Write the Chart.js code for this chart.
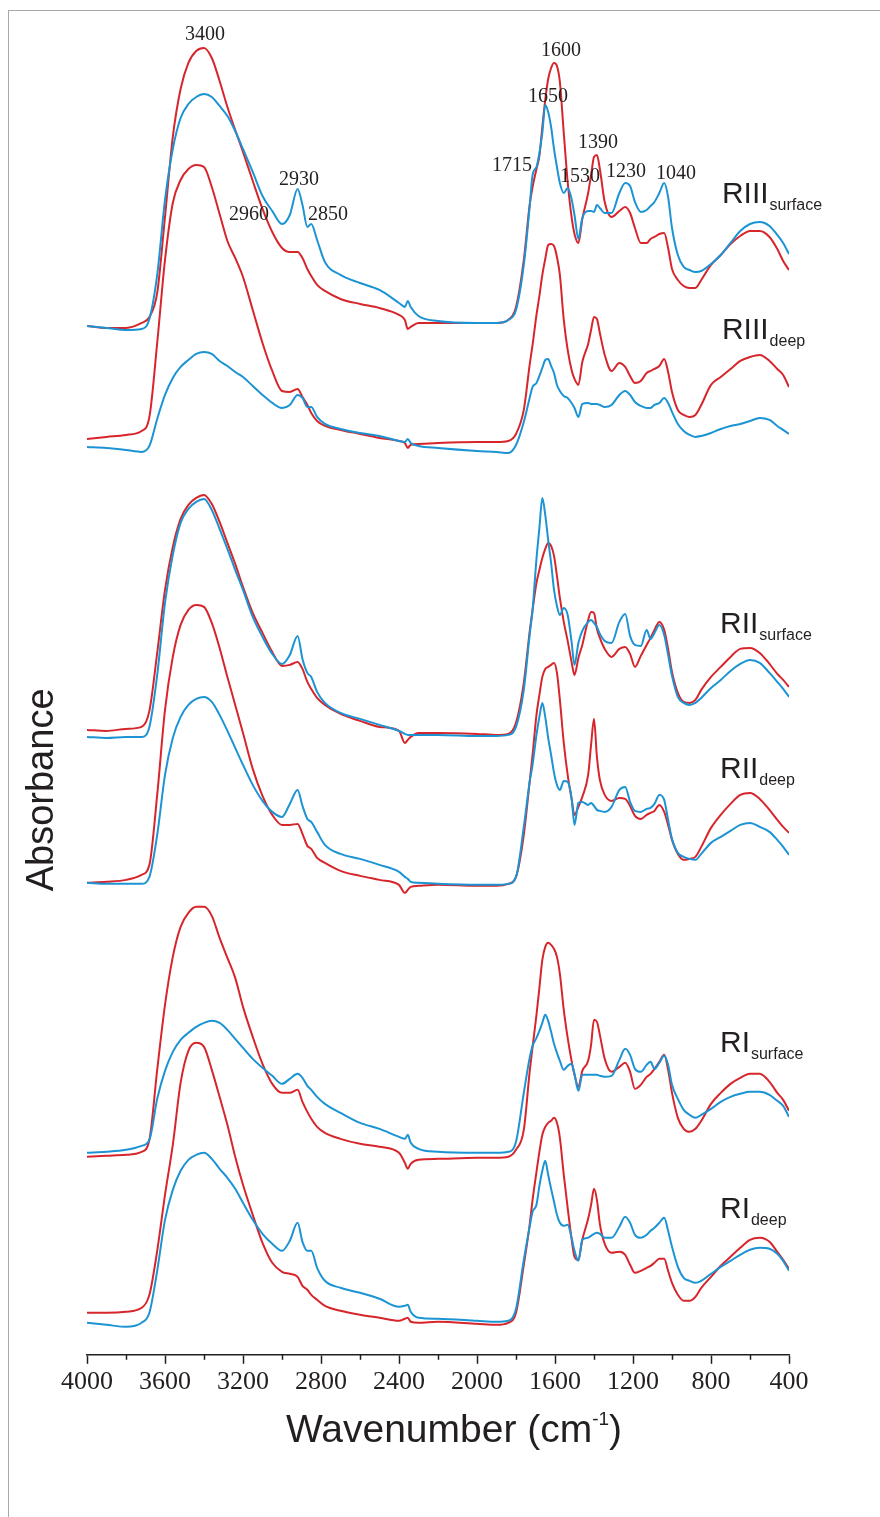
<!DOCTYPE html>
<html>
<head>
<meta charset="utf-8">
<title>FTIR spectra</title>
<script src="https://cdn.jsdelivr.net/npm/chart.js@4.4.0/dist/chart.umd.min.js"></script>
<style>
  html, body { margin: 0; padding: 0; background: #fff; overflow: hidden; }
  #marco { position: absolute; left: 8px; top: 10px; width: 871px; height: 1506px;
           border-left: 1px solid #a8a8a8; border-top: 1px solid #a8a8a8; }
  #lineChart { position: absolute; left: 0; top: 0; }
</style>
</head>
<body>
<div id="marco"></div>
<canvas id="lineChart" width="880" height="1517"></canvas>
<script>
// Eje x: número de onda (cm-1), común a todos los espectros
const wavenumbers = [
  4000, 3900, 3800, 3720, 3680, 3640, 3600, 3560, 3520, 3480,
  3440, 3400, 3360, 3320, 3280, 3240, 3200, 3150, 3100, 3050,
  3000, 2960, 2920, 2895, 2870, 2850, 2820, 2780, 2700, 2600,
  2500, 2400, 2370, 2355, 2340, 2300, 2200, 2000, 1900, 1840,
  1800, 1760, 1730, 1715, 1695, 1680, 1665, 1650, 1635, 1620,
  1605, 1590, 1575, 1555, 1535, 1515, 1500, 1480, 1460, 1430,
  1415, 1400, 1385, 1370, 1345, 1310, 1270, 1240, 1215, 1190,
  1160, 1130, 1110, 1090, 1065, 1040, 1020, 1000, 970, 940,
  910, 880, 850, 800, 750, 700, 650, 600, 550, 500,
  460, 430, 400
];

// Absorbancia (unidades arbitrarias, con desplazamiento vertical por muestra)
const riiiSurfaceRed = [
  1029, 1027, 1027, 1032, 1038, 1062, 1138, 1218, 1266, 1292,
  1304, 1307, 1297, 1274, 1248, 1225, 1203, 1174, 1146, 1123,
  1107, 1103, 1103, 1097, 1086, 1079, 1070, 1064, 1056, 1051,
  1047, 1040, 1035, 1026, 1028, 1032, 1032, 1032, 1032, 1035,
  1048, 1095, 1150, 1168, 1186, 1199, 1228, 1255, 1276, 1287,
  1292, 1289, 1273, 1222, 1173, 1138, 1121, 1112, 1136, 1162,
  1180, 1198, 1200, 1186, 1153, 1138, 1144, 1148, 1142, 1127,
  1112, 1112, 1116, 1118, 1121, 1122, 1107, 1086, 1075, 1069,
  1067, 1067, 1075, 1090, 1100, 1111, 1119, 1124, 1124, 1118,
  1106, 1094, 1085
];
const riiiSurfaceBlue = [
  1029, 1027, 1025, 1026, 1036, 1080, 1155, 1206, 1237, 1251,
  1258, 1261, 1258, 1249, 1239, 1224, 1206, 1183, 1159, 1144,
  1131, 1140, 1166, 1150, 1128, 1131, 1115, 1093, 1080, 1072,
  1065, 1052, 1048, 1054, 1048, 1039, 1034, 1032, 1032, 1035,
  1045, 1090, 1148, 1180, 1188, 1202, 1222, 1250, 1243, 1228,
  1206, 1188, 1172, 1162, 1167, 1156, 1140, 1116, 1137, 1144,
  1144, 1143, 1150, 1147, 1142, 1142, 1162, 1172, 1169, 1153,
  1143, 1145, 1149, 1153, 1162, 1172, 1158, 1127, 1100, 1088,
  1085, 1083, 1084, 1091, 1100, 1112, 1124, 1131, 1133, 1129,
  1120, 1112, 1101
];
const riiiDeepRed = [
  916, 918, 920, 924, 938, 1012, 1095, 1152, 1175, 1186,
  1190, 1188, 1168, 1141, 1114, 1097, 1078, 1045, 1012, 984,
  964, 963, 966, 958, 950, 942, 934, 929, 925, 921,
  917, 914, 912, 907, 910, 911, 912, 913, 913, 914,
  921, 945, 990, 1010, 1040, 1059, 1080, 1096, 1110, 1111,
  1109, 1098, 1080, 1035, 1005, 985, 976, 970, 993, 1011,
  1025, 1038, 1036, 1022, 1000, 984, 992, 988, 979, 972,
  974, 982, 984, 986, 989, 996, 983, 963, 945, 940,
  938, 940, 950, 970, 978, 986, 994, 998, 1000, 994,
  986, 980, 968
];
const riiiDeepBlue = [
  908, 907, 905, 903, 909, 936, 960, 977, 988, 995,
  1001, 1003, 1001, 994, 989, 983, 978, 969, 960, 952,
  947, 950, 960, 957, 948, 948, 938, 931, 926, 922,
  919, 914, 913, 916, 912, 909, 907, 904, 903, 902,
  910, 933, 957, 968, 972, 979, 987, 995, 996, 989,
  982, 970, 964, 959, 957, 952, 947, 938, 951, 952,
  951, 951, 951, 950, 948, 950, 960, 964, 960, 953,
  949, 947, 947, 950, 952, 957, 952, 943, 931, 924,
  920, 918, 919, 922, 926, 929, 931, 934, 937, 935,
  929, 925, 921
];
const riiSurfaceRed = [
  625, 624, 626, 628, 644, 702, 765, 808, 836, 850,
  857, 860, 851, 833, 812, 791, 768, 742, 722, 703,
  689, 690, 693, 686, 673, 666, 657, 650, 641, 634,
  628, 624, 612, 615, 618, 622, 622, 621, 620, 621,
  632, 672, 723, 745, 772, 785, 797, 806, 812, 809,
  799, 779, 757, 733, 714, 693, 680, 697, 710, 735,
  743, 742, 726, 717, 706, 698, 706, 708, 701, 688,
  699, 710, 717, 725, 733, 725, 706, 683, 662, 653,
  652, 655, 665, 678, 688, 698, 706, 707, 702, 691,
  681, 675, 668
];
const riiSurfaceBlue = [
  618, 617, 618, 618, 628, 680, 752, 800, 832, 846,
  853, 856, 845, 826, 806, 785, 765, 738, 718, 701,
  691, 700, 719, 696, 682, 678, 663, 652, 642, 636,
  630, 624, 621, 620, 620, 620, 620, 619, 619, 620,
  628, 665, 720, 745, 796, 827, 857, 840, 815, 792,
  765, 749, 740, 747, 740, 713, 690, 712, 724, 733,
  735, 732, 728, 721, 714, 712, 733, 741, 719, 710,
  709, 725, 716, 722, 730, 720, 700, 679, 658, 652,
  650, 652, 657, 667, 675, 684, 691, 695, 692, 682,
  673, 666, 658
];
const riiDeepRed = [
  472, 473, 475, 480, 490, 560, 645, 698, 730, 745,
  750, 748, 732, 707, 678, 650, 622, 586, 559, 540,
  530, 530, 531, 521, 509, 506, 497, 492, 484, 479,
  475, 470, 462, 465, 468, 469, 470, 469, 469, 471,
  478, 520, 573, 600, 640, 660, 678, 686, 688, 690,
  692, 682, 655, 612, 580, 556, 540, 548, 558, 580,
  610, 636, 598, 575, 560, 554, 557, 556, 549, 539,
  536, 540, 542, 544, 550, 543, 530, 515, 501, 495,
  496, 498, 508, 527, 540, 551, 560, 562, 556, 545,
  535, 528, 522
];
const riiDeepBlue = [
  472, 471, 471, 471, 478, 520, 580, 617, 638, 650,
  656, 658, 653, 640, 624, 607, 590, 570, 554, 543,
  538, 551, 565, 549, 536, 533, 523, 510, 501, 496,
  490, 483, 478, 476, 473, 472, 471, 470, 470, 471,
  478, 528, 573, 590, 620, 638, 652, 638, 617, 600,
  582, 570, 565, 574, 573, 557, 530, 552, 553, 550,
  552, 549, 545, 544, 543, 548, 565, 568, 553, 544,
  543, 546, 547, 551, 560, 555, 535, 516, 502, 498,
  496, 495, 501, 512, 518, 524, 530, 532, 528, 523,
  515, 508, 500
];
const riSurfaceRed = [
  198, 199, 200, 203, 215, 285, 350, 398, 428, 442,
  448, 448, 439, 417, 397, 377, 348, 318, 291, 271,
  262, 262, 265, 253, 243, 236, 228, 222, 216, 211,
  208, 202, 192, 186, 191, 195, 196, 197, 197, 198,
  205, 225, 283, 308, 340, 367, 395, 408, 412, 410,
  406, 398, 381, 345, 317, 294, 280, 268, 284, 294,
  310, 335, 333, 320, 296, 283, 288, 292, 283, 266,
  270, 278, 281, 286, 293, 300, 285, 262, 237, 226,
  223, 226, 234, 251, 262, 271, 277, 281, 281, 273,
  262, 255, 244
];
const riSurfaceBlue = [
  202, 203, 205, 209, 215, 256, 284, 303, 315, 322,
  328, 332, 334, 332, 325, 316, 307, 296, 287, 279,
  271, 276, 281, 277, 269, 265, 258, 251, 242, 232,
  226, 218, 216, 220, 212, 206, 203, 202, 202, 203,
  213, 262, 297, 309, 317, 324, 332, 340, 334, 323,
  311, 302, 294, 285, 289, 291, 281, 264, 280, 280,
  280, 280, 280, 279, 278, 279, 295, 306, 300, 286,
  283, 290, 293, 286, 292, 299, 290, 270, 256, 245,
  240, 237, 240, 246, 253, 258, 261, 263, 263, 260,
  254, 249, 238
];
const riDeepRed = [
  42, 42, 43, 47, 60, 104, 160, 210, 272, 304,
  312, 308, 285, 258, 230, 198, 170, 140, 112, 92,
  83, 81, 78, 69, 65, 60, 55, 49, 44, 40,
  37, 34, 36, 37, 33, 32, 33, 31, 30, 32,
  42, 90, 130, 155, 183, 203, 220, 228, 232, 234,
  237, 232, 217, 180, 147, 116, 98, 95, 115, 136,
  150, 166, 155, 131, 111, 102, 103, 100, 90, 82,
  84, 87, 89, 92, 96, 96, 84, 72, 60, 54,
  54, 58, 67, 78, 89, 98, 107, 115, 117, 113,
  103, 95, 86
];
const riDeepBlue = [
  32, 30, 28, 32, 42, 84, 135, 165, 184, 195,
  200, 202, 196, 186, 177, 166, 152, 135, 121, 111,
  104, 114, 132, 113, 104, 104, 87, 74, 67, 62,
  56, 48, 49, 50, 43, 37, 36, 34, 33, 34,
  46, 95, 128, 143, 150, 169, 184, 194, 180, 166,
  153, 140, 132, 129, 130, 117, 104, 94, 115, 117,
  119, 121, 122, 121, 117, 117, 128, 138, 132, 120,
  117, 120, 124, 127, 132, 137, 124, 108, 88, 77,
  74, 72, 74, 81, 88, 94, 100, 105, 107, 106,
  101, 94, 84
];

// Etiquetas de las bandas y de las muestras
const peakLabels = ['3400', '2930', '2960', '2850', '1600', '1650', '1715', '1530', '1390', '1230', '1040'];
const sampleNames = ['RIII', 'RIII', 'RII', 'RII', 'RI', 'RI'];
const sampleSubs = ['surface', 'deep', 'surface', 'deep', 'surface', 'deep'];
const xTicks = [4000, 3600, 3200, 2800, 2400, 2000, 1600, 1200, 800, 400];

const rojo = 'rgb(214, 38, 44)';
const azul = 'rgb(28, 148, 212)';
const tinta = '#231f20';

// Posiciones de los textos (número de onda, nivel en el eje y)
const peakPos = {
  '3400': [3395, 1320], '2930': [2913, 1175], '2960': [3169, 1140], '2850': [2764, 1140],
  '1600': [1569, 1304], '1650': [1636, 1258], '1715': [1821, 1189], '1530': [1472, 1178],
  '1390': [1380, 1212], '1230': [1236, 1183], '1040': [980, 1181]
};
const samplePos = [[744, 1152], [744, 1016], [754, 722], [754, 577], [754, 303], [754, 137]];

function puntos(valores) {
  return wavenumbers.map((w, i) => ({ x: w, y: valores[i] }));
}

function serie(label, valores, color) {
  return {
    label: label,
    data: puntos(valores),
    borderColor: color,
    borderWidth: 2,
    pointRadius: 0,
    fill: false,
    cubicInterpolationMode: 'monotone',
    order: color === azul ? 1 : 2
  };
}

// Plugin para textos: bandas, muestras, títulos de los ejes y marcas menores
const textos = {
  id: 'textos',
  afterDraw(chart) {
    const { ctx, scales: { x, y } } = chart;
    ctx.save();
    ctx.fillStyle = tinta;
    ctx.strokeStyle = tinta;

    // marcas menores del eje x
    ctx.lineWidth = 1.5;
    for (let v = 600; v < 4000; v += 400) {
      const px = Math.round(x.getPixelForValue(v)) + 0.5;
      ctx.beginPath();
      ctx.moveTo(px, x.top);
      ctx.lineTo(px, x.top + 5);
      ctx.stroke();
    }

    ctx.font = '20px "Liberation Serif", "Times New Roman", serif';
    ctx.textAlign = 'center';
    ctx.textBaseline = 'middle';
    peakLabels.forEach(t => {
      const [w, lv] = peakPos[t];
      ctx.fillText(t, x.getPixelForValue(w), y.getPixelForValue(lv));
    });

    ctx.textAlign = 'left';
    ctx.textBaseline = 'alphabetic';
    sampleNames.forEach((n, i) => {
      const px = x.getPixelForValue(samplePos[i][0]);
      const py = y.getPixelForValue(samplePos[i][1]);
      ctx.font = '30px "Liberation Sans", Arial, sans-serif';
      ctx.fillText(n, px, py);
      const ancho = ctx.measureText(n).width;
      ctx.font = '16px "Liberation Sans", Arial, sans-serif';
      ctx.fillText(sampleSubs[i], px + ancho + 1, py + 7);
    });

    // título eje x con superíndice
    const base = y.getPixelForValue(-87);
    const centro = x.getPixelForValue(2118);
    const grande = '39px "Liberation Sans", Arial, sans-serif';
    const chico = '19px "Liberation Sans", Arial, sans-serif';
    ctx.font = grande;
    const w1 = ctx.measureText('Wavenumber (cm').width;
    const w3 = ctx.measureText(')').width;
    ctx.font = chico;
    const w2 = ctx.measureText('-1').width;
    let px = centro - (w1 + w2 + w3) / 2;
    ctx.font = grande;
    ctx.fillText('Wavenumber (cm', px, base);
    px += w1;
    ctx.font = chico;
    ctx.fillText('-1', px, base - 17);
    px += w2;
    ctx.font = grande;
    ctx.fillText(')', px, base);

    // título eje y
    ctx.translate(chart.chartArea.left - 44, y.getPixelForValue(565));
    ctx.rotate(-Math.PI / 2);
    ctx.textAlign = 'center';
    ctx.textBaseline = 'middle';
    ctx.font = '38px "Liberation Sans", Arial, sans-serif';
    ctx.fillText('Absorbance', 0, 0);
    ctx.restore();
  }
};

const config = {
  type: 'line',
  data: {
    datasets: [
      serie('RIII surface', riiiSurfaceRed, rojo),
      serie('RIII surface', riiiSurfaceBlue, azul),
      serie('RIII deep', riiiDeepRed, rojo),
      serie('RIII deep', riiiDeepBlue, azul),
      serie('RII surface', riiSurfaceRed, rojo),
      serie('RII surface', riiSurfaceBlue, azul),
      serie('RII deep', riiDeepRed, rojo),
      serie('RII deep', riiDeepBlue, azul),
      serie('RI surface', riSurfaceRed, rojo),
      serie('RI surface', riSurfaceBlue, azul),
      serie('RI deep', riDeepRed, rojo),
      serie('RI deep', riDeepBlue, azul)
    ]
  },
  options: {
    responsive: false,
    animation: false,
    devicePixelRatio: 1,
    layout: { padding: { left: 87, right: 91, top: 20, bottom: 116 } },
    plugins: { legend: { display: false }, tooltip: { enabled: false } },
    scales: {
      x: {
        type: 'linear',
        reverse: true,
        min: 400,
        max: 4000,
        afterBuildTicks: scale => { scale.ticks = xTicks.map(v => ({ value: v })); },
        ticks: {
          color: tinta,
          padding: 3,
          maxRotation: 0,
          autoSkip: false,
          font: { family: '"Liberation Serif", "Times New Roman", serif', size: 26 },
          callback: v => String(v)
        },
        grid: { display: true, drawOnChartArea: false, drawTicks: true, tickLength: 9, tickColor: tinta, tickWidth: 1.5 },
        border: { display: true, color: tinta, width: 1.5 }
      },
      y: {
        display: false,
        min: 0,
        max: 1335
      }
    }
  },
  plugins: [textos]
};

const lineChart = new Chart(document.getElementById('lineChart'), config);
</script>
</body>
</html>
